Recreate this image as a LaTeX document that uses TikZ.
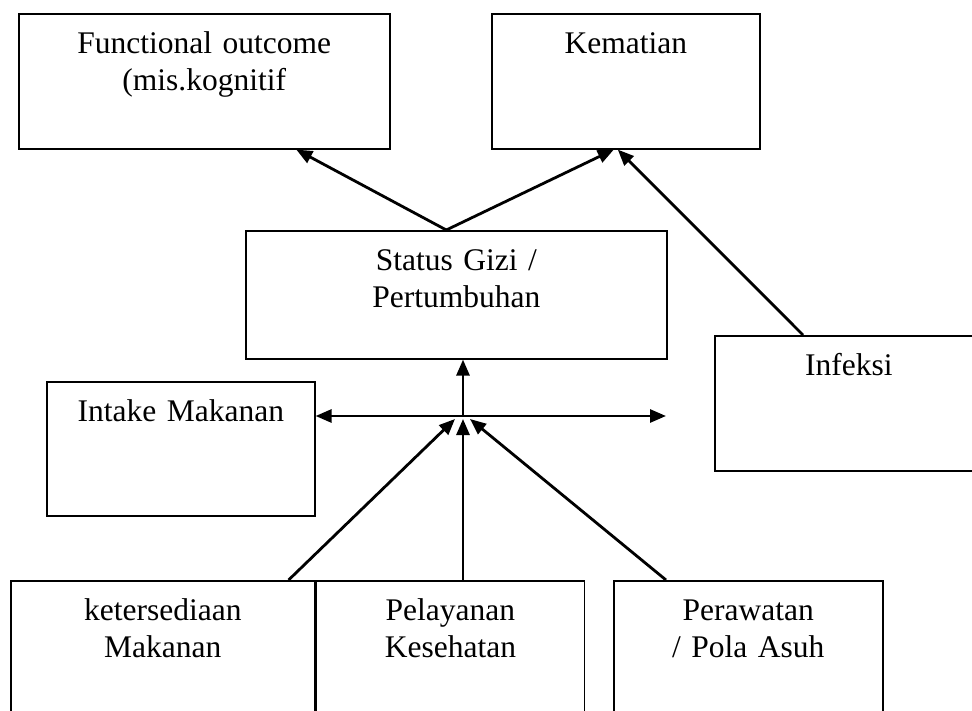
\documentclass[tikz,border=0pt]{standalone}
\usepackage{fontspec}
\setmainfont{Liberation Serif}
\usetikzlibrary{arrows.meta,positioning,calc}

\begin{document}
\begin{tikzpicture}[
        x=1pt, y=-1pt,
        >={Triangle[length=16pt,width=13pt]},
    ]

    \tikzstyle{kotak} = [rectangle, draw=black, line width=1.6pt, anchor=north west,
                         inner sep=0pt, text height=40pt, align=center,
                         font=\fontsize{31.5}{37}\selectfont];
    \tikzstyle{panah} = [->, line width=2.8pt];

    \useasboundingbox (0,0) rectangle (972,711);
    \clip (0,0) rectangle (972,711);

    % Nodes
    \node[kotak, text width=371pt, text depth=95pt] (functional) at (18,13) {Functional outcome\\(mis.kognitif};
    \node[kotak, text width=268pt, text depth=95pt] (kematian) at (491,13) {Kematian};
    \node[kotak, text width=421pt, text depth=88pt] (status) at (245,230) {Status Gizi /\\Pertumbuhan};
    \node[kotak, text width=268pt, text depth=95pt] (infeksi) at (714,335) {Infeksi};
    \node[kotak, text width=268pt, text depth=94pt] (intake) at (46,381) {Intake Makanan};
    \node[kotak, text width=304pt, text depth=110pt] (ketersediaan) at (10,580) {ketersediaan\\Makanan};
    \node[kotak, text width=268pt, text depth=110pt, right=0pt of ketersediaan] (pelayanan) {Pelayanan\\Kesehatan};
    \node[kotak, text width=269pt, text depth=110pt] (perawatan) at (613,580) {Perawatan\\/ Pola Asuh};

    \coordinate (pusat) at (463,416);
    \coordinate (kanan) at (666,416);

    % Arrows
    \draw[panah] ($(status.north)+(-10,0)$) -- ($(functional.south)+(92,0)$);
    \draw[panah] ($(status.north)+(-10,0)$) -- ($(kematian.south)+(-12,0)$);
    \draw[panah] ($(infeksi.north west)+(89,0)$) -- ($(kematian.south)+(-8,0)$);
    \draw[panah] (pusat) -- (pusat |- status.south);
    \draw[panah, <->] (pusat -| intake.east) -- (kanan);

    % Arrows into the centre
    \draw[panah] ($(ketersediaan.north east)+(-27,0)$) -- ($(pusat)+(-8,3)$);
    \draw[panah] (pusat |- pelayanan.north) -- ($(pusat)+(0,3)$);
    \draw[panah] ($(perawatan.north west)+(53,0)$) -- ($(pusat)+(7,3)$);

\end{tikzpicture}
\end{document}
